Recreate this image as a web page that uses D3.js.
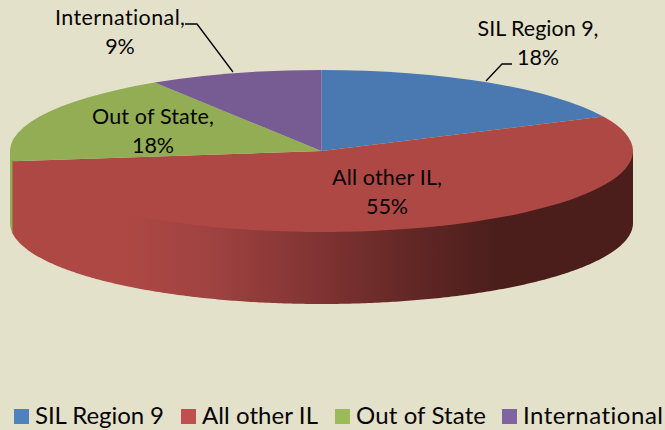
<!DOCTYPE html>
<html><head><meta charset="utf-8">
<script src="https://cdn.jsdelivr.net/npm/d3@7"></script>
<style>html,body{margin:0;padding:0;background:#e4e1cb}svg{display:block}text{font-family:Lato,"Open Sans",sans-serif;fill:#050505;font-variant-ligatures:none;font-feature-settings:"liga" 0}</style>
</head><body><div id="c"></div>
<script>
const categories=["SIL Region 9","All other IL","Out of State","International"];
const values=[18,55,18,9];
const topColors=["#4a78b0","#ae4845","#92ad53","#775b93"];
const legendColors=["#4f81bd","#c0504d","#9bbb59","#8064a2"];
const W=665,H=430,cx=321.5,cy=151,rx=311.5,ry=81,depth=72;
const svg=d3.select("#c").append("svg").attr("width",W).attr("height",H);
svg.append("rect").attr("width",W).attr("height",H).attr("fill","#e4e1cb");
const defs=svg.append("defs");
const g=defs.append("linearGradient").attr("id","side").attr("gradientUnits","userSpaceOnUse").attr("x1",10).attr("x2",633).attr("y1",0).attr("y2",0);
[[0,"#ae4845"],[0.18,"#ae4845"],[0.33,"#9e4240"],[0.5,"#7f3332"],[0.65,"#612725"],[0.78,"#4b1e1c"],[1,"#4b1e1c"]].forEach(s=>g.append("stop").attr("offset",s[0]).attr("stop-color",s[1]));
const pie=d3.pie().sort(null).value(d=>d);
const arcs=pie(values);
const X=t=>cx+rx*Math.sin(t),Y=t=>cy-ry*Math.cos(t);
const line=d3.line();
function wall(a0,a1){
  const s=Math.max(a0,Math.PI/2),e=Math.min(a1,Math.PI*1.5);
  const ts=d3.range(s,e,0.01).concat([e]);
  const top=ts.map(t=>[X(t),Y(t)-4]);
  const bot=ts.slice().reverse().map(t=>[X(t),Y(t)+depth]);
  return line(top.concat(bot))+"Z";
}
svg.append("path").attr("d",wall(arcs[2].startAngle-0.02,Math.PI*1.5)).attr("fill","#92ad53");
svg.append("path").attr("d",wall(arcs[1].startAngle,arcs[1].endAngle)).attr("fill","url(#side)");
const arc=d3.arc().innerRadius(0).outerRadius(rx);
svg.append("g").attr("transform",`translate(${cx},${cy}) scale(1,${ry/rx})`)
  .selectAll("path").data(arcs).join("path")
  .attr("d",arc).attr("fill",(d,i)=>topColors[i]);
const leaders=[[[512,64],[502,64],[486,81]],[[185,24],[197,24],[233,72]]];
svg.selectAll("path.leader").data(leaders).join("path").attr("class","leader")
  .attr("d",d=>d3.line()(d)).attr("fill","none").attr("stroke","#000").attr("stroke-width",1.3);
const labelPos=[[538,36],[387,185],[153,124],[120,25]];
const labelWidths=[121,110,122,130];
const fs=21.5;
categories.forEach((c,i)=>{
  svg.append("text").attr("text-anchor","middle").attr("font-size",fs).attr("x",labelPos[i][0]).attr("y",labelPos[i][1])
    .attr("textLength",labelWidths[i]).attr("lengthAdjust","spacing").text(c+",");
  svg.append("text").attr("text-anchor","middle").attr("font-size",fs).attr("x",labelPos[i][0]).attr("y",labelPos[i][1]+29).text(values[i]+"%");
});
const legendX=[14,181,335,502];
const legendWidths=[129,116,130,140];
const lg=svg.append("g").selectAll("g").data(categories).join("g").attr("transform",(d,i)=>`translate(${legendX[i]},409)`);
lg.append("rect").attr("width",15).attr("height",15).attr("fill",(d,i)=>legendColors[i]);
lg.append("text").attr("x",21).attr("y",14.5).attr("font-size",24).attr("textLength",(d,i)=>legendWidths[i]).attr("lengthAdjust","spacing").text(d=>d);
</script></body></html>
